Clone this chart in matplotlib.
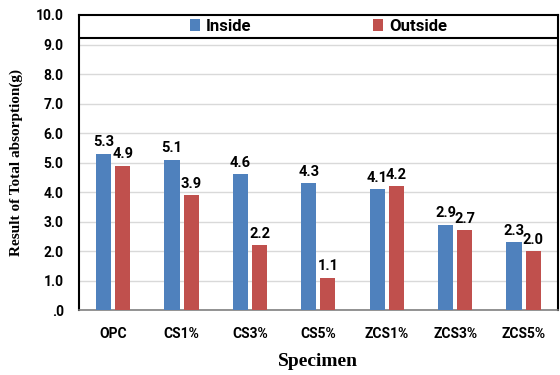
import numpy as np
import matplotlib.pyplot as plt
from matplotlib.patches import Rectangle

# Data
specimens = ['OPC', 'CS1%', 'CS3%', 'CS5%', 'ZCS1%', 'ZCS3%', 'ZCS5%']
inside = [5.3, 5.1, 4.6, 4.3, 4.1, 2.9, 2.3]
outside = [4.9, 3.9, 2.2, 1.1, 4.2, 2.7, 2.0]
y_ticks = np.arange(0, 11, 1)
y_tick_labels = ['.0'] + [f'{v:.1f}' for v in y_ticks[1:]]

sans = ['Roboto', 'DejaVu Sans']
serif = ['Liberation Serif', 'DejaVu Serif']

fig = plt.figure(figsize=(5.6, 3.75), dpi=100)
ax = fig.add_axes([0.141, 0.173, 0.855, 0.787])

x = np.arange(len(specimens))
w = 0.22
gap = 0.03
b1 = ax.bar(x - w / 2 - gap, inside, w, color='#4F81BD', label='Inside', zorder=3)
b2 = ax.bar(x + w / 2 + gap, outside, w, color='#C0504D', label='Outside', zorder=3)

for bars, vals in [(b1, inside), (b2, outside)]:
    for rect, v in zip(bars, vals):
        ax.text(rect.get_x() + rect.get_width() / 2, v + 0.15, f'{v:.1f}',
                ha='center', va='bottom', fontsize=10.5, fontweight='bold', family=sans)

ax.set_xlim(-0.5, len(specimens) - 0.5)
ax.set_ylim(0, 10)
ax.set_yticks(y_ticks)
ax.set_yticklabels(y_tick_labels, fontsize=10, fontweight='bold', family=sans)
ax.set_xticks(x)
ax.set_xticklabels(specimens, fontsize=10, fontweight='bold', family=sans)
ax.tick_params(axis='both', length=0)
ax.tick_params(axis='x', pad=12)
ax.tick_params(axis='y', pad=11)
ax.grid(axis='y', color='#d9d9d9', linewidth=1, zorder=0)

for side in ['left', 'right', 'top']:
    ax.spines[side].set_color('black')
    ax.spines[side].set_linewidth(1.5)
ax.spines['bottom'].set_color('#808080')
ax.spines['bottom'].set_linewidth(1.2)

ax.set_xlabel('Specimen', fontsize=14, fontweight='bold', family=serif, labelpad=9)
ax.set_ylabel('Result of Total absorption(g)', fontsize=11, fontweight='bold', family=serif, labelpad=9)

# legend band across the top
ax.add_patch(Rectangle((0, 0.922), 1, 0.078, transform=ax.transAxes, facecolor='white',
                       edgecolor='black', linewidth=1.5, zorder=4))
leg = ax.legend(loc='center', bbox_to_anchor=(0.5, 0.961), ncol=2, frameon=False,
                columnspacing=7.3, handlelength=0.6, handleheight=0.7, handletextpad=0.35,
                prop={'family': sans, 'weight': 'bold', 'size': 12})
leg.set_zorder(5)

fig.savefig('out.png', dpi=100)
